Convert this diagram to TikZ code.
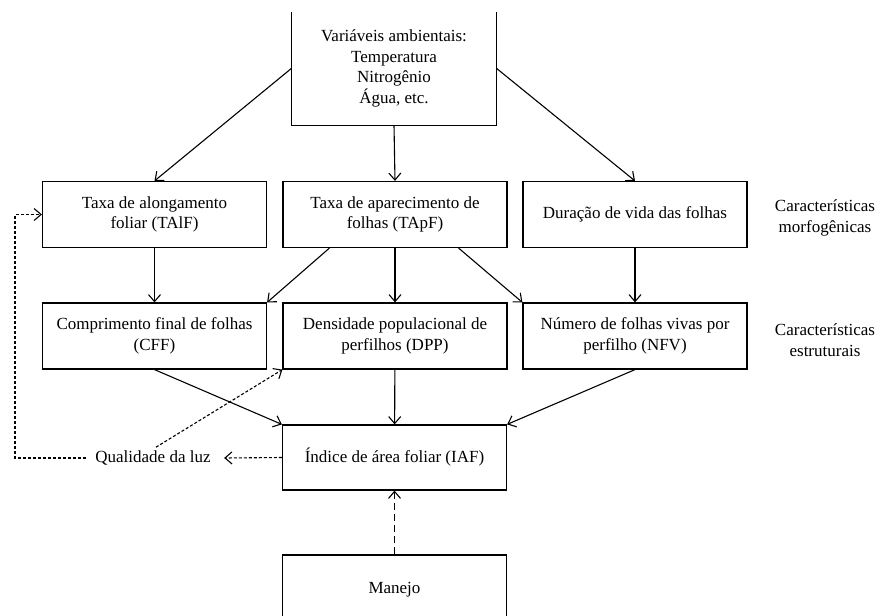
\documentclass[tikz,border=0pt]{standalone}
\usepackage{fontspec}
\setmainfont{Liberation Serif}
\usetikzlibrary{arrows.meta}

\tikzset{
  caixa/.style={draw, line width=1.2pt, minimum width=224pt, minimum height=66pt,
                align=center, inner sep=2pt},
  seta/.style={->, line width=1.1pt},
  tracejada/.style={->, line width=1.1pt, dash pattern=on 3pt off 2pt},
}

\begin{document}
\begin{tikzpicture}[x=1pt, y=-1pt, >={Straight Barb[length=7pt,width=12pt]},
                    font=\fontsize{17}{20.5}\selectfont]
    \useasboundingbox (0,0) rectangle (879,616);
    % Variáveis ambientais (caixa sem borda superior)
    \node[minimum width=205pt, minimum height=113pt, align=center] (variaveis) at (394,68.5)
      {Variáveis ambientais:\\Temperatura\\Nitrogênio\\Água, etc.};
    \draw[line width=1.2pt] (variaveis.north west) -- (variaveis.south west)
      -- (variaveis.south east) -- (variaveis.north east);
    % Características morfogênicas
    \node[caixa] (taif) at (154.5,214.5) {Taxa de alongamento\\foliar (TAlF)};
    \node[caixa] (tapf) at (395,214.5) {Taxa de aparecimento de\\folhas (TApF)};
    \node[caixa] (duracao) at (635,214.5) {Duração de vida das folhas};
    % Características estruturais
    \node[caixa] (cff) at (154.5,336) {Comprimento final de folhas\\(CFF)};
    \node[caixa] (dpp) at (395,336) {Densidade populacional de\\perfilhos (DPP)};
    \node[caixa] (nfv) at (635,336) {Número de folhas vivas por\\perfilho (NFV)};
    % IAF e manejo
    \node[caixa, minimum height=65pt] (iaf) at (394.5,457.5) {Índice de área foliar (IAF)};
    \node[caixa, minimum height=70pt] (manejo) at (394.5,590) {Manejo};
    \node (luz) at (153,458) {Qualidade da luz};
    \coordinate (retorno) at (15,300);
    % Rótulos à direita
    \node[align=center] (morfo) at (825,218) {Características\\morfogênicas};
    \node[align=center] (estrut) at (825,340) {Características\\estruturais};
    % Setas
    \draw[seta] (variaveis.west) -- (taif.north);
    \draw[seta] (variaveis.south) -- (tapf.north);
    \draw[seta] (variaveis.east) -- (duracao.north);
    \draw[seta] (taif) -- (cff);
    \draw[seta] ([xshift=47pt]tapf.south west) -- (cff.north east);
    \draw[seta] (tapf) -- (dpp);
    \draw[seta] ([xshift=-49pt]tapf.south east) -- (nfv.north west);
    \draw[seta] (duracao) -- (nfv);
    \draw[seta] (cff.south) -- (iaf.north west);
    \draw[seta] (dpp) -- (iaf);
    \draw[seta] (nfv.south) -- (iaf.north east);
    % Setas tracejadas
    \draw[tracejada] (iaf.west) -- ([xshift=10pt]luz.east);
    \draw[tracejada, shorten <=6pt] (luz.west) -- (luz.west -| retorno) |- (taif.west);
    \draw[tracejada] ([xshift=3pt]luz.north) -- (dpp.south west);
    \draw[->, line width=1.1pt, dash pattern=on 7pt off 4pt] (manejo) -- (iaf);
\end{tikzpicture}
\end{document}
